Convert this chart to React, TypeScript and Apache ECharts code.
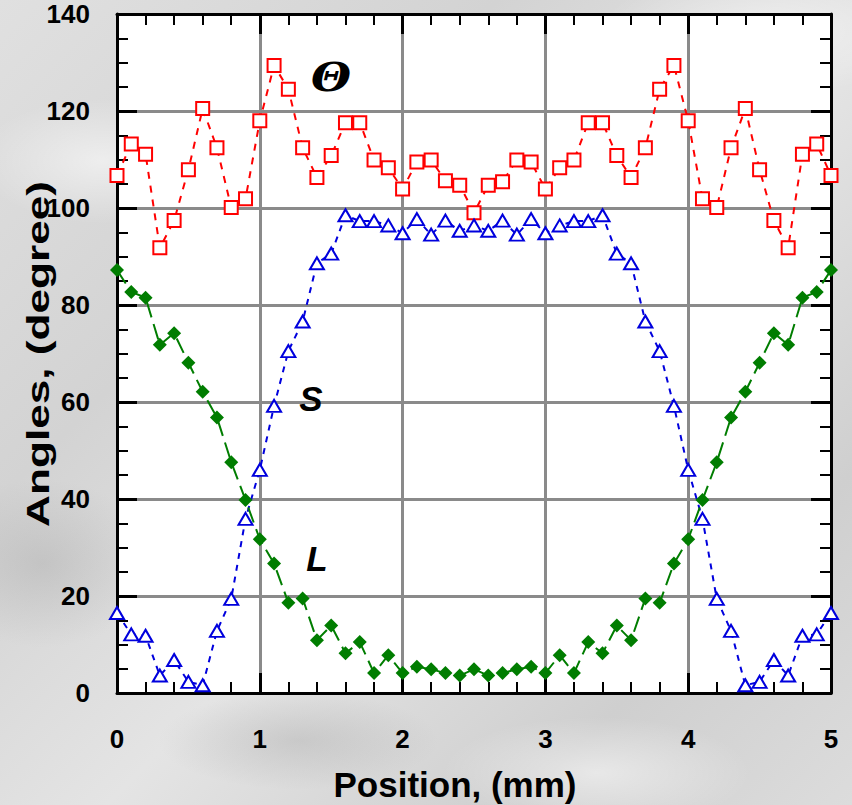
import React, { useEffect, useRef } from "react";
import * as echarts from "echarts";

const positions = [
  0, 0.1, 0.2, 0.3, 0.4, 0.5, 0.6, 0.7, 0.8, 0.9,
  1.0, 1.1, 1.2, 1.3, 1.4, 1.5, 1.6, 1.7, 1.8, 1.9,
  2.0, 2.1, 2.2, 2.3, 2.4, 2.5, 2.6, 2.7, 2.8, 2.9,
  3.0, 3.1, 3.2, 3.3, 3.4, 3.5, 3.6, 3.7, 3.8, 3.9,
  4.0, 4.1, 4.2, 4.3, 4.4, 4.5, 4.6, 4.7, 4.8, 4.9, 5.0,
];

const thetaValues = [
  106.7, 113.2, 111.1, 91.8, 97.4, 107.9, 120.5, 112.4, 100.1, 101.9,
  118.0, 129.4, 124.5, 112.4, 106.3, 110.8, 117.6, 117.6, 109.9, 108.3,
  103.9, 109.5, 109.9, 105.6, 104.7, 99.0, 104.7, 105.4, 109.9, 109.5,
  103.9, 108.3, 109.9, 117.6, 117.6, 110.8, 106.3, 112.4, 124.5, 129.4,
  118.0, 101.9, 100.1, 112.4, 120.5, 107.9, 97.4, 91.8, 111.1, 113.2, 106.7,
];

const sValues = [
  16.5, 12.1, 11.8, 3.6, 6.8, 2.3, 1.6, 12.8, 19.4, 35.9,
  46.0, 59.2, 70.5, 76.6, 88.6, 90.6, 98.5, 97.3, 97.3, 96.4,
  94.8, 97.7, 94.5, 97.4, 95.3, 96.4, 95.3, 97.4, 94.5, 97.7,
  94.8, 96.4, 97.3, 97.3, 98.5, 90.6, 88.6, 76.6, 70.5, 59.2,
  46.0, 35.9, 19.4, 12.8, 1.6, 2.3, 6.8, 3.6, 11.8, 12.1, 16.5,
];

const lValues = [
  87.2, 82.7, 81.5, 71.8, 74.2, 68.1, 62.1, 56.8, 47.6, 39.8,
  31.7, 26.7, 18.6, 19.5, 10.9, 13.9, 8.2, 10.5, 4.1, 7.8,
  4.1, 5.4, 4.9, 4.1, 3.6, 4.9, 3.6, 4.1, 4.9, 5.4,
  4.1, 7.8, 4.1, 10.5, 8.2, 13.9, 10.9, 19.5, 18.6, 26.7,
  31.7, 39.8, 47.6, 56.8, 62.1, 68.1, 74.2, 71.8, 81.5, 82.7, 87.2,
];

const xTitle = "Position, (mm)";
const yTitle = "Angles, (degree)";
const curveLabels = ["\u0398", "S", "L"];

const FONT = "'Liberation Sans', Arial, Helvetica, sans-serif";

function pairs(vals: number[]) {
  return positions.map((p, i) => [p, vals[i]]);
}

export default function App() {
  const ref = useRef<HTMLDivElement>(null);

  useEffect(() => {
    if (!ref.current) return;
    const chart = echarts.init(ref.current, undefined, { renderer: "svg" });

    const axisLabel = {
      fontFamily: FONT,
      fontWeight: "bold" as const,
      fontSize: 26,
      color: "#000",
    };

    const baseX = {
      type: "value" as const,
      min: 0,
      max: 5,
      interval: 1,
      axisLine: { show: true, onZero: false, lineStyle: { color: "#000", width: 3 } },
      axisTick: { show: true, inside: true, length: 20, lineStyle: { color: "#000", width: 3 } },
      minorTick: { show: true, splitNumber: 5, length: 11, lineStyle: { color: "#000", width: 2 } },
    };
    const baseY = {
      type: "value" as const,
      min: 0,
      max: 140,
      interval: 20,
      axisLine: { show: true, onZero: false, lineStyle: { color: "#000", width: 3 } },
      axisTick: { show: true, inside: true, length: 20, lineStyle: { color: "#000", width: 3 } },
      minorTick: { show: true, splitNumber: 4, length: 11, lineStyle: { color: "#000", width: 2 } },
    };

    const centered = {
      fill: "#000",
      align: "center",
      verticalAlign: "middle",
      textAlign: "center",
      textVerticalAlign: "middle",
    };

    chart.setOption({
      animation: false,
      backgroundColor: "transparent",
      grid: {
        left: 117,
        top: 14,
        width: 714,
        height: 679,
        show: true,
        backgroundColor: "#ffffff",
        borderWidth: 0,
      },
      xAxis: [
        {
          ...baseX,
          position: "bottom",
          axisLabel: { ...axisLabel, margin: 33 },
          splitLine: { show: true, lineStyle: { color: "#8a8a8a", width: 3 } },
        },
        {
          ...baseX,
          position: "top",
          axisLabel: { show: false },
          splitLine: { show: false },
        },
      ],
      yAxis: [
        {
          ...baseY,
          position: "left",
          axisLabel: { ...axisLabel, margin: 27 },
          splitLine: { show: true, lineStyle: { color: "#8a8a8a", width: 3 } },
        },
        {
          ...baseY,
          position: "right",
          axisLabel: { show: false },
          splitLine: { show: false },
        },
      ],
      series: [
        {
          name: "Theta",
          type: "line",
          xAxisIndex: 0,
          yAxisIndex: 0,
          data: pairs(thetaValues),
          clip: false,
          symbol: "rect",
          symbolSize: 13,
          lineStyle: { color: "#ff0000", width: 2, type: [7, 7] },
          itemStyle: { color: "#ffffff", borderColor: "#ff0000", borderWidth: 2 },
          z: 3,
        },
        {
          name: "S",
          type: "line",
          xAxisIndex: 0,
          yAxisIndex: 0,
          data: pairs(sValues),
          clip: false,
          symbol: "triangle",
          symbolSize: [14, 12],
          lineStyle: { color: "#0000dd", width: 2, type: [6, 6] },
          itemStyle: { color: "#ffffff", borderColor: "#0000dd", borderWidth: 2 },
          z: 4,
        },
        {
          name: "L",
          type: "line",
          xAxisIndex: 0,
          yAxisIndex: 0,
          data: pairs(lValues),
          clip: false,
          symbol: "diamond",
          symbolSize: 14,
          lineStyle: { color: "#007d00", width: 2, type: [16, 7] },
          itemStyle: { color: "#007d00", borderWidth: 0 },
          z: 5,
        },
      ],
      graphic: [
        {
          type: "text",
          x: 331,
          y: 77,
          z: 10,
          scaleX: 1.15,
          style: {
            ...centered,
            text: curveLabels[0],
            font: "italic bold 40px 'DejaVu Serif', 'Liberation Serif', serif",
          },
        },
        {
          type: "text",
          x: 311,
          y: 398,
          z: 10,
          style: {
            ...centered,
            text: curveLabels[1],
            font: `italic bold 35px ${FONT}`,
          },
        },
        {
          type: "text",
          x: 317,
          y: 558,
          z: 10,
          style: {
            ...centered,
            text: curveLabels[2],
            font: `italic bold 35px ${FONT}`,
          },
        },
        {
          type: "text",
          x: 455,
          y: 784,
          z: 10,
          style: {
            ...centered,
            text: xTitle,
            font: `bold 35px ${FONT}`,
          },
        },
        {
          type: "text",
          x: 38,
          y: 354,
          rotation: Math.PI / 2,
          scaleX: 1.38,
          scaleY: 1,
          z: 10,
          style: {
            ...centered,
            text: yTitle,
            font: `bold 32px ${FONT}`,
          },
        },
      ],
    });

    return () => {
      chart.dispose();
    };
  }, []);

  const marble =
    "radial-gradient(ellipse 180px 90px at 12% 20%, rgba(255,255,255,0.55), rgba(255,255,255,0) 70%)," +
    "radial-gradient(ellipse 220px 80px at 70% 96%, rgba(255,255,255,0.5), rgba(255,255,255,0) 70%)," +
    "radial-gradient(ellipse 160px 120px at 5% 70%, rgba(150,150,150,0.3), rgba(150,150,150,0) 70%)," +
    "radial-gradient(ellipse 200px 70px at 35% 92%, rgba(140,140,140,0.25), rgba(140,140,140,0) 70%)," +
    "radial-gradient(ellipse 240px 90px at 90% 4%, rgba(255,255,255,0.5), rgba(255,255,255,0) 70%)," +
    "linear-gradient(135deg, #e0e0e0 0%, #d3d3d3 30%, #e4e4e4 55%, #cfcfcf 80%, #dcdcdc 100%)";

  return (
    <div
      ref={ref}
      style={{
        position: "fixed",
        left: 0,
        top: 0,
        width: 852,
        height: 805,
        backgroundColor: "#d9d9d9",
        backgroundImage: marble,
      }}
    />
  );
}
